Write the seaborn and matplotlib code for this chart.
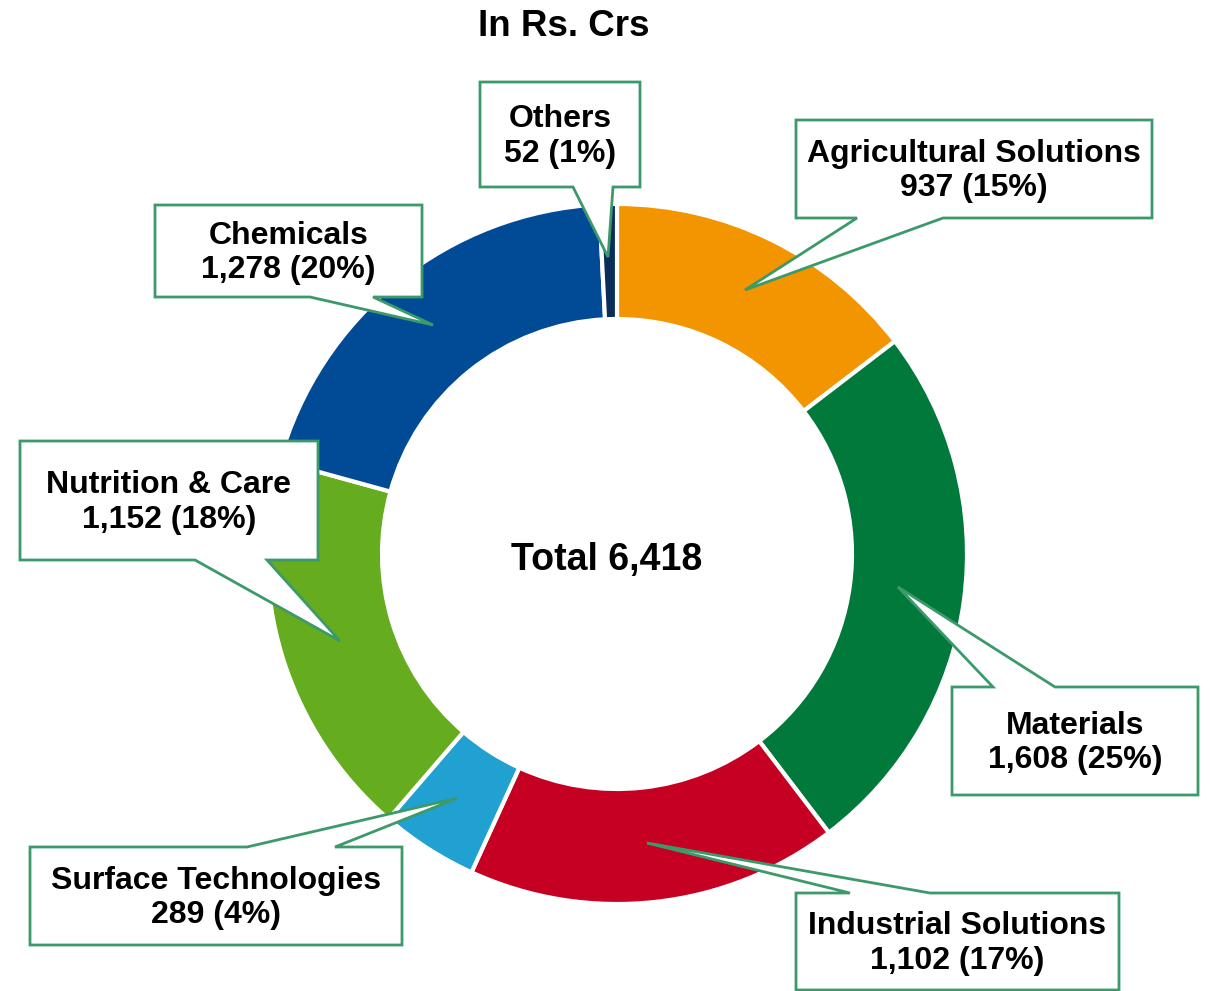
import matplotlib
matplotlib.use("Agg")
import matplotlib.pyplot as plt
from matplotlib.patches import Polygon
import seaborn as sns

# segment revenue, in Rs. Crs (clockwise from 12 o'clock)
segments = ["Agricultural Solutions", "Materials", "Industrial Solutions",
            "Surface Technologies", "Nutrition & Care", "Chemicals", "Others"]
values = [937, 1608, 1102, 289, 1152, 1278, 52]
shares = [15, 25, 17, 4, 18, 20, 1]
seg_colors = ["#F39500", "#00793A", "#C50022", "#21A0D2", "#65AC1E", "#004A96", "#0C2C5A"]

W, H = 1210, 991
BORDER = "#3C9A6A"

# callout layout in pixel coords (y down): box, side of pointer, pointer base x, tip
callouts = {
    "Agricultural Solutions": ((796, 120, 1152, 218), "bottom", (857, 943), (745, 290)),
    "Materials": ((952, 687, 1198, 795), "top", (993, 1055), (898, 587)),
    "Industrial Solutions": ((796, 893, 1119, 990), "top", (850, 930), (647, 843)),
    "Surface Technologies": ((30, 847, 402, 945), "top", (247, 335), (458, 798)),
    "Nutrition & Care": ((20, 441, 318, 560), "bottom", (195, 267), (340, 641)),
    "Chemicals": ((155, 205, 422, 297), "bottom", (310, 373), (433, 325)),
    "Others": ((480, 82, 640, 187), "bottom", (573, 613), (608, 257)),
}

sns.set_theme(style="white")
plt.rcParams["font.family"] = ["Liberation Sans", "DejaVu Sans"]
plt.rcParams["text.color"] = "black"

fig = plt.figure(figsize=(W / 100, H / 100), dpi=100)
ax = fig.add_axes([0, 0, 1, 1])

palette = sns.color_palette(seg_colors)
ax.pie(values, colors=palette, startangle=90, counterclock=False,
       center=(617, H - 554), radius=350, frame=True,
       wedgeprops=dict(width=115, edgecolor="white", linewidth=3))


def Y(y):
    return H - y


for name, val, pct in zip(segments, values, shares):
    (x0, y0, x1, y1), side, (b0, b1), (tx, ty) = callouts[name]
    if side == "bottom":
        pts = [(x0, y0), (x1, y0), (x1, y1), (b1, y1), (tx, ty), (b0, y1), (x0, y1)]
    else:
        pts = [(x0, y0), (b0, y0), (tx, ty), (b1, y0), (x1, y0), (x1, y1), (x0, y1)]
    poly = Polygon([(px, Y(py)) for px, py in pts], closed=True,
                   facecolor="white", edgecolor=BORDER, linewidth=2, zorder=3)
    ax.add_patch(poly)
    ax.text((x0 + x1) / 2, Y((y0 + y1) / 2 + 2), f"{name}\n{val:,} ({pct}%)",
            ha="center", va="center", fontsize=23, fontweight="bold",
            color="black", linespacing=1.2, zorder=4)

ax.text(607, Y(560), f"Total {sum(values):,}", ha="center", va="center",
        fontsize=27, fontweight="bold", color="black")
ax.text(564, Y(26), "In Rs. Crs", ha="center", va="center",
        fontsize=26.5, fontweight="bold", color="black")

ax.set_xlim(0, W)
ax.set_ylim(0, H)
ax.set_aspect("equal")
ax.axis("off")

fig.savefig("out.png", dpi=100, facecolor="white")
